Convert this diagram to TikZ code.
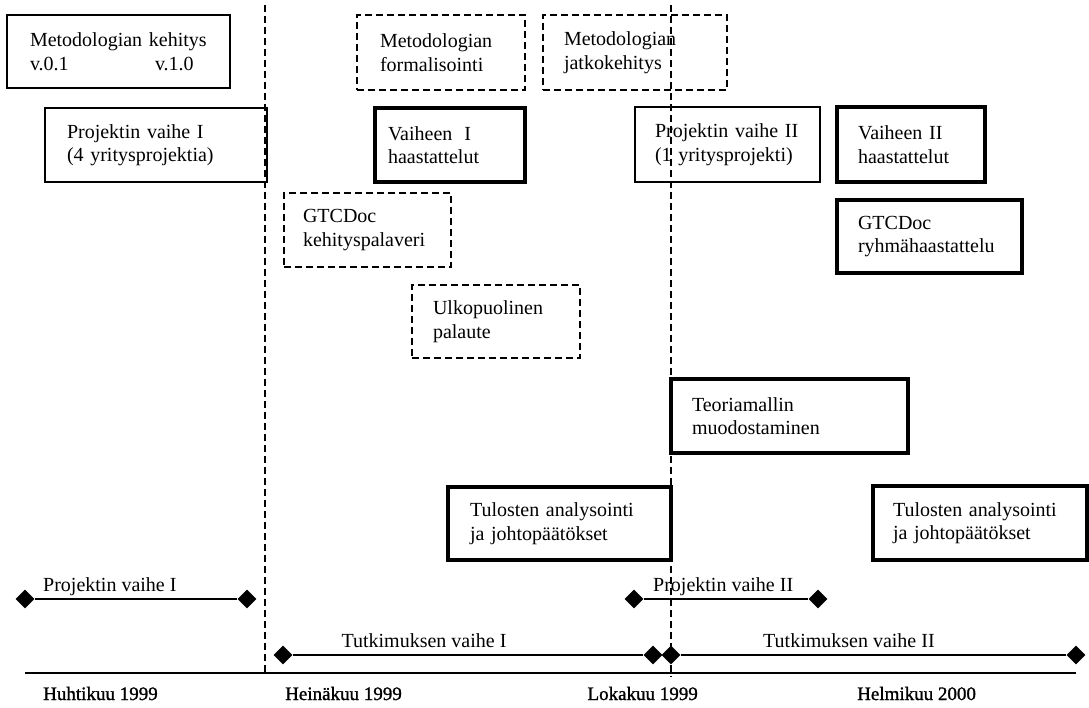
\documentclass[tikz,border=0pt]{standalone}
\usepackage{fontspec}
\setmainfont{Liberation Serif}
\newfontfamily\datefont[FakeBold=1.2]{Liberation Serif}
\usetikzlibrary{shapes.geometric}
\begin{document}
\begin{tikzpicture}[x=1pt,y=-1pt,
  bx/.style={draw, rectangle, inner ysep=0pt, align=left, font=\fontsize{20}{23.5}\selectfont},
  thinbox/.style={bx, line width=1.6pt},
  thickbox/.style={bx, line width=3.2pt},
  dashbox/.style={bx, line width=1.8pt, dash pattern=on 7pt off 4pt},
  sep/.style={line width=1.8pt, dash pattern=on 7pt off 4pt},
  dia/.style={diamond, fill=black, inner sep=0pt, minimum width=19pt, minimum height=19pt},
  tl/.style={line width=1.8pt},
  lbl/.style={inner sep=0pt, font=\fontsize{20}{23.5}\selectfont},
  date/.style={inner sep=0pt, font=\datefont\fontsize{19}{21}\selectfont}
]
\useasboundingbox (0,0) rectangle (1089,708);

% separators
\coordinate (s1t) at (265,5);
\coordinate (s1b) at (265,673);
\coordinate (s2t) at (671,5);
\coordinate (s2b) at (671,677);
\draw[sep] (s1t) -- (s1b);
\draw[sep] (s2t) -- (s2b);

% boxes
\node[thinbox, minimum height=73pt, inner xsep=23pt, text width=177pt] (meth) at (118.5,51.5)
  {Metodologian~kehitys\\\makebox[125pt][l]{v.0.1}v.1.0};
\node[thinbox, minimum height=74pt, inner xsep=22pt, text width=178pt] (proj1) at (156,145)
  {Projektin~vaihe~I\\(4~yritysprojektia)};
\node[dashbox, minimum height=75pt, inner xsep=23pt, text width=122pt] (form) at (441,52.5)
  {Metodologian\\formalisointi};
\node[dashbox, minimum height=75pt, inner xsep=21pt, text width=142pt] (jatko) at (635,52.5)
  {Metodologian\\jatkokehitys};
\node[thickbox, minimum height=74pt, inner xsep=13pt, text width=124pt] (haas1) at (450,145)
  {Vaiheen\hspace{0.6em}I\\haastattelut};
\node[thinbox, minimum height=75pt, inner xsep=20pt, text width=145pt] (proj2) at (727.5,144.5)
  {Projektin~vaihe~II\\(1~yritysprojekti)};
\node[thickbox, minimum height=75pt, inner xsep=21pt, text width=106pt] (haas2) at (911,144.5)
  {Vaiheen~II\\haastattelut};
\node[thickbox, minimum height=73pt, inner xsep=21pt, text width=143pt] (ryhma) at (929.5,236.5)
  {GTCDoc\\ryhmähaastattelu};
\node[dashbox, minimum height=74pt, inner xsep=19pt, text width=129pt] (kehpal) at (367.5,230)
  {GTCDoc\\kehityspalaveri};
\node[dashbox, minimum height=73pt, inner xsep=21pt, text width=126pt] (ulko) at (496,321.5)
  {Ulkopuolinen\\palaute};
\node[thickbox, minimum height=74pt, inner xsep=21pt, text width=195pt] (teoria) at (789.5,416)
  {Teoriamallin\\muodostaminen};
\node[thickbox, minimum height=73pt, inner xsep=22pt, text width=179pt] (tul1) at (559.5,523.5)
  {Tulosten~analysointi\\ja~johtopäätökset};
\node[thickbox, minimum height=74pt, inner xsep=20pt, text width=174pt] (tul2) at (980,523)
  {Tulosten~analysointi\\ja~johtopäätökset};

% timeline
\node[dia] (p1a) at (25,599) {};
\node[dia] (p1b) at (247,599) {};
\node[dia] (p2a) at (634,599) {};
\node[dia] (p2b) at (818,599) {};
\node[dia] (t1a) at (283,655) {};
\node[dia] (t1b) at (653,655) {};
\node[dia] (t2a) at (671,655) {};
\node[dia] (t2b) at (1076,655) {};
\draw[tl] (p1a) -- (p1b);
\draw[tl] (p2a) -- (p2b);
\draw[tl] (t1a) -- (t1b);
\draw[tl] (t2a) -- (t2b);
\coordinate (b0) at (25,673);
\coordinate (b1) at (1076,673);
\draw[tl] (b0) -- (b1);

\node[lbl, anchor=base west] (lp1) at (43,591) {Projektin vaihe I};
\node[lbl, anchor=base west] (lp2) at (653,591) {Projektin vaihe II};
\node[lbl, anchor=base] (lt1) at (424,647) {Tutkimuksen vaihe I};
\node[lbl, anchor=base west] (lt2) at (763,647) {Tutkimuksen vaihe II};

\node[date, anchor=base west] (d1) at (43,700) {Huhtikuu 1999};
\node[date, anchor=base west] (d2) at (285,700) {Heinäkuu 1999};
\node[date, anchor=base east] (d3) at (698,700) {Lokakuu 1999};
\node[date, anchor=base west] (d4) at (857,700) {Helmikuu 2000};
\end{tikzpicture}
\end{document}
